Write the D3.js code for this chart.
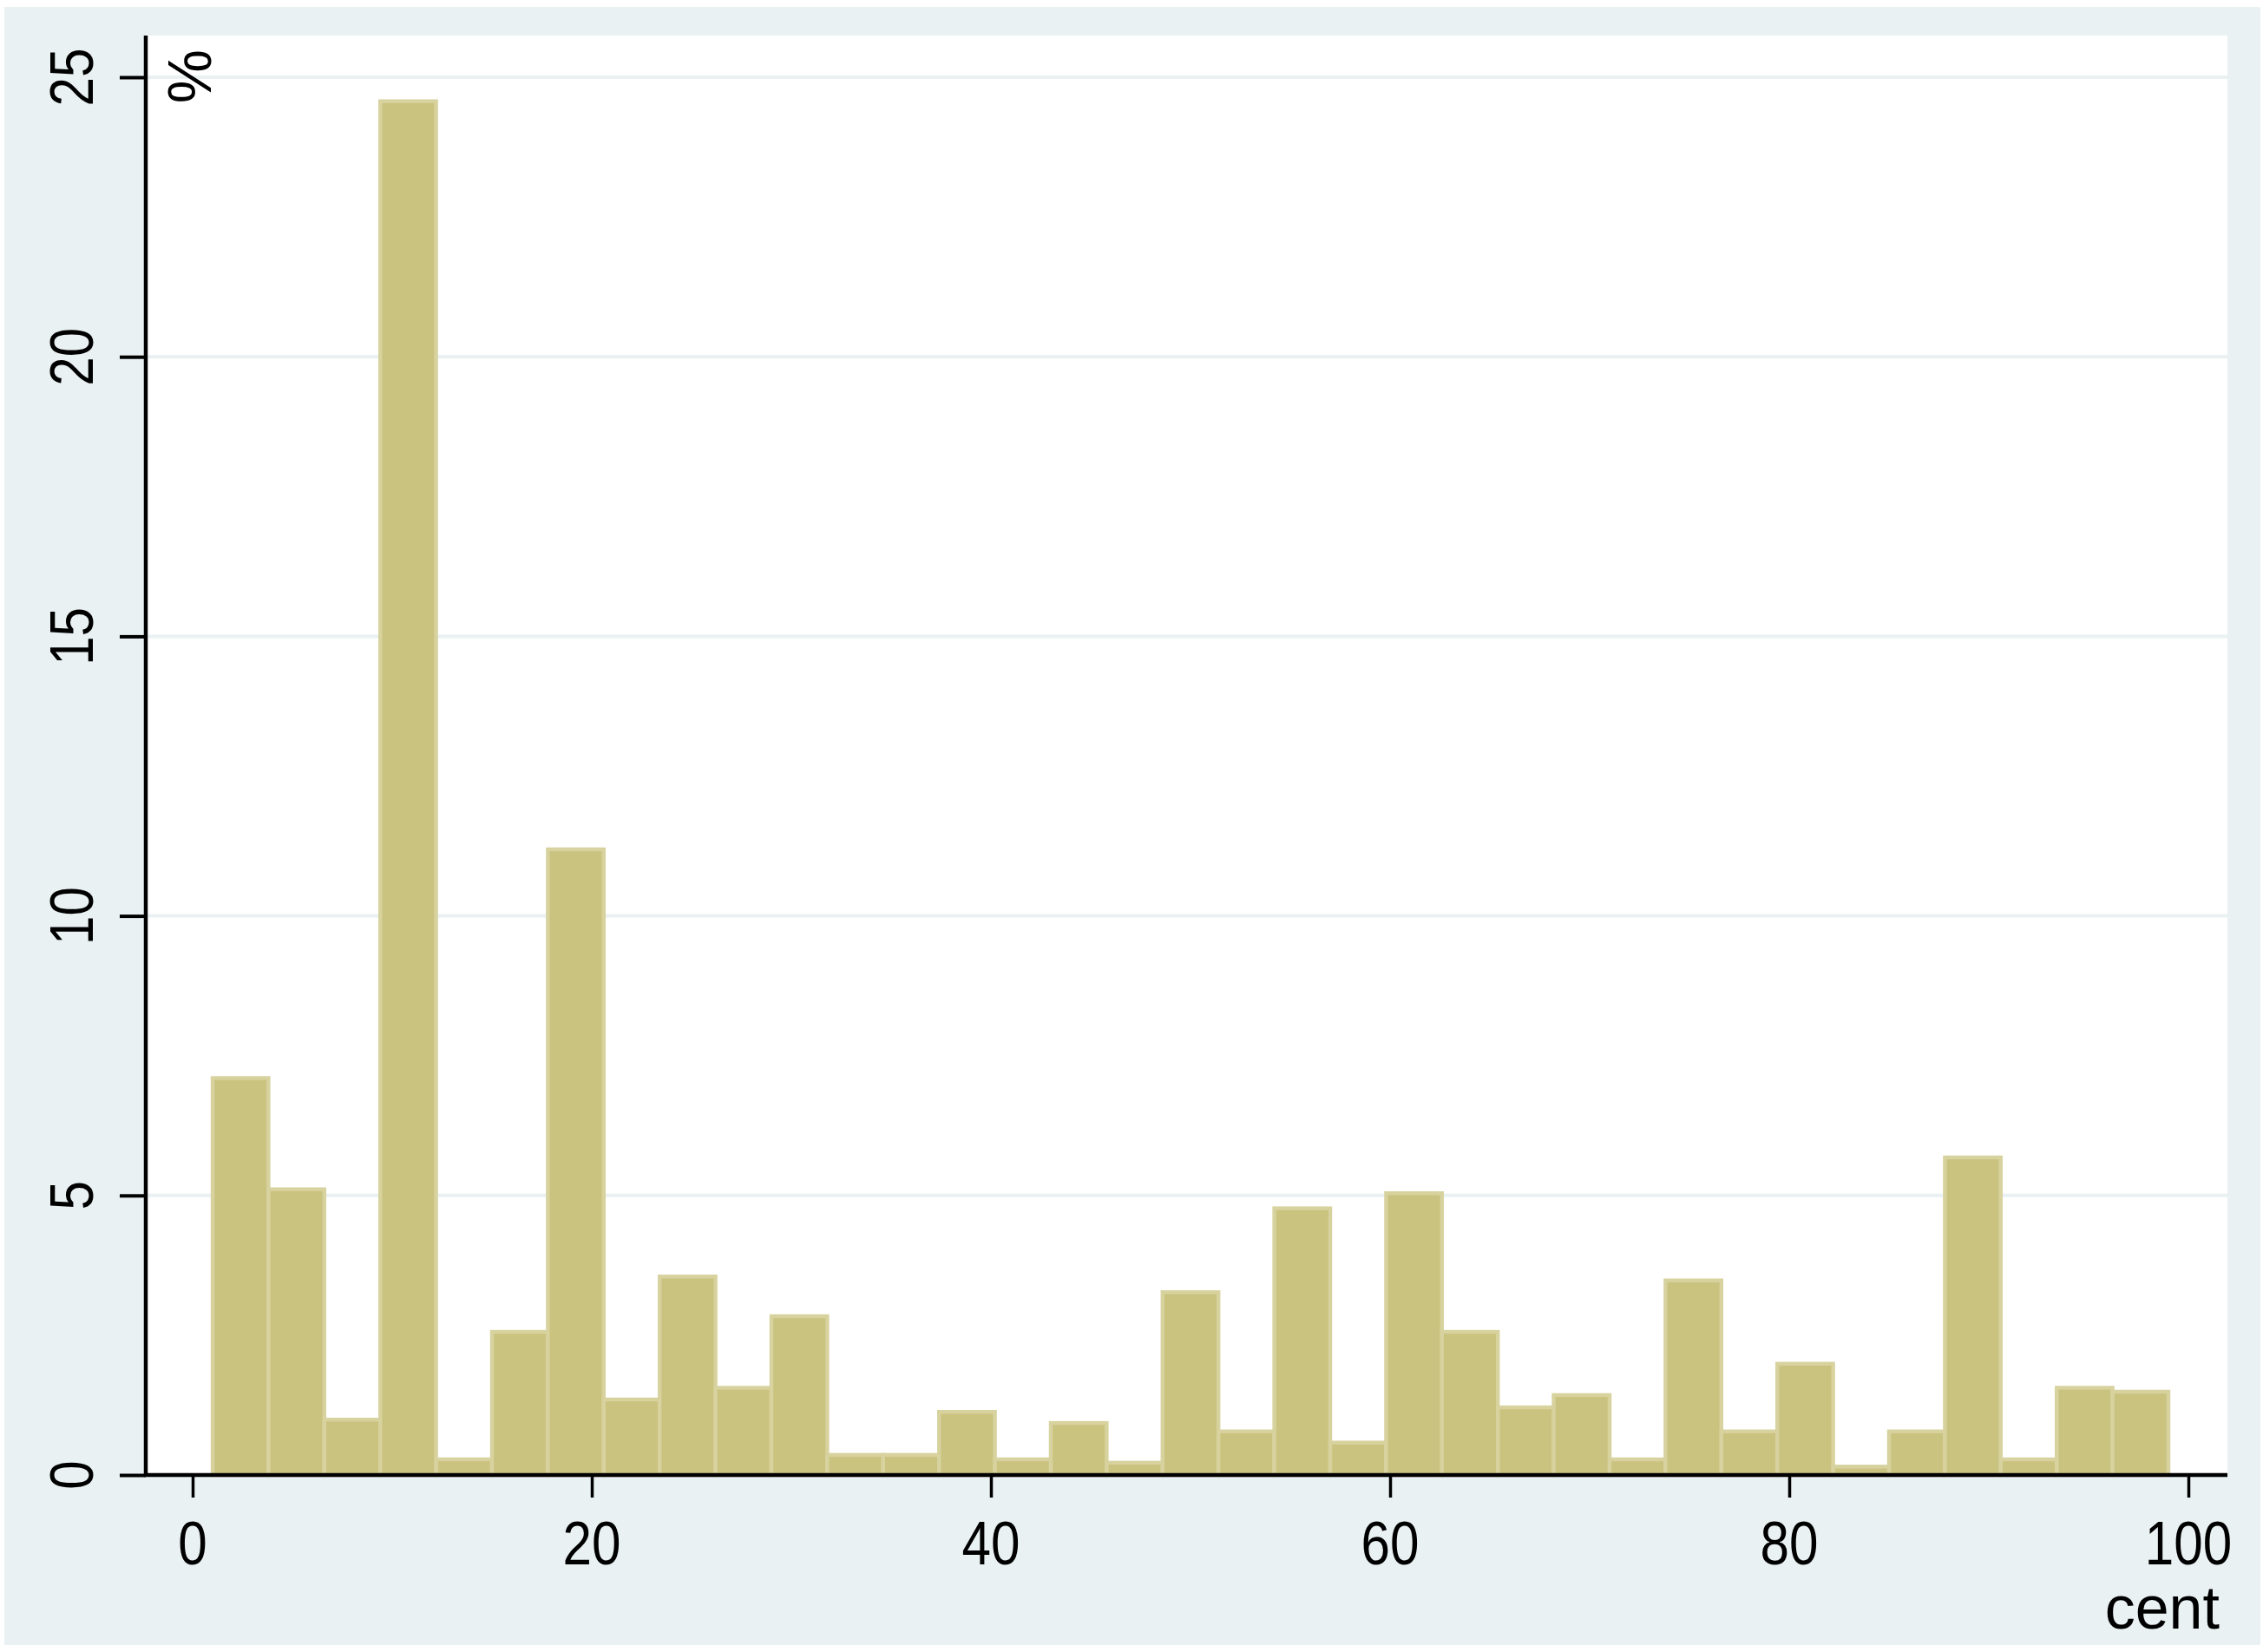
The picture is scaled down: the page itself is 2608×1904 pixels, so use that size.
<!DOCTYPE html>
<html>
<head>
<meta charset="utf-8">
<script src="https://cdn.jsdelivr.net/npm/d3@7"></script>
<style>
  html, body { margin: 0; padding: 0; background: #ffffff; }
  svg { display: block; }
</style>
</head>
<body>
<script>
// ---- data ----
const binStarts = [1, 3.8, 6.6, 9.4, 12.2, 15, 17.8, 20.6, 23.4, 26.2, 29, 31.8, 34.6, 37.4, 40.2, 43, 45.8, 48.6, 51.4, 54.2, 57, 59.8, 62.6, 65.4, 68.2, 71, 73.8, 76.6, 79.4, 82.2, 85, 87.8, 90.6, 93.4, 96.2];
const binWidth = 2.8;
const percents = [7.10, 5.11, 0.99, 24.57, 0.28, 2.56, 11.19, 1.35, 3.55, 1.56, 2.84, 0.36, 0.36, 1.13, 0.28, 0.93, 0.22, 3.27, 0.78, 4.77, 0.58, 5.04, 2.56, 1.21, 1.43, 0.28, 3.48, 0.78, 1.99, 0.15, 0.78, 5.68, 0.28, 1.56, 1.49];
const xTicks = [0, 20, 40, 60, 80, 100];
const yTicks = [0, 5, 10, 15, 20, 25];
const xTitle = "cent";
const yTitle = "%";

// ---- layout ----
const W = 2608, H = 1904;
const plot = { left: 168, right: 2567, top: 41, bottom: 1700 };
const FONT = "'Liberation Sans', Arial, sans-serif";
const FS = 70;
const SX = 0.86;

const x = d3.scaleLinear().domain([0, 100]).range([222, 2522]);
const y = d3.scaleLinear().domain([0, 25]).range([plot.bottom, 89]);

const svg = d3.select("body").append("svg").attr("width", W).attr("height", H);

svg.append("rect").attr("x", 0).attr("y", 0).attr("width", W).attr("height", H).attr("fill", "#ffffff");
svg.append("rect").attr("x", 5).attr("y", 8).attr("width", 2600).attr("height", 1888).attr("fill", "#e9f1f3");
svg.append("rect").attr("x", plot.left).attr("y", plot.top)
  .attr("width", plot.right - plot.left).attr("height", plot.bottom - plot.top).attr("fill", "#ffffff");

// gridlines
svg.append("g").selectAll("line").data(yTicks.filter(d => d > 0)).join("line")
  .attr("x1", plot.left).attr("x2", plot.right)
  .attr("y1", d => y(d)).attr("y2", d => y(d))
  .attr("stroke", "#e9f1f3").attr("stroke-width", 4);

// bars
const data = binStarts.map((s, i) => ({ s, v: percents[i] }));
svg.append("g").selectAll("rect").data(data).join("rect")
  .attr("x", d => x(d.s))
  .attr("width", d => x(d.s + binWidth) - x(d.s))
  .attr("y", d => y(d.v))
  .attr("height", d => y(0) - y(d.v))
  .attr("fill", "#cac380")
  .attr("stroke", "#d7d29e")
  .attr("stroke-width", 4.4);

// y axis ticks via d3 axis
const yAxis = d3.axisLeft(y).tickValues(yTicks).tickSize(30).tickSizeOuter(0).tickFormat("");
const gy = svg.append("g").attr("transform", `translate(${plot.left},0)`).call(yAxis);
gy.select(".domain").remove();
gy.selectAll(".tick line").attr("stroke", "#000").attr("stroke-width", 4);

// x axis ticks via d3 axis
const xAxis = d3.axisBottom(x).tickValues(xTicks).tickSize(26).tickSizeOuter(0).tickFormat("");
const gx = svg.append("g").attr("transform", `translate(0,${plot.bottom})`).call(xAxis);
gx.select(".domain").remove();
gx.selectAll(".tick line").attr("stroke", "#000").attr("stroke-width", 3.5);

// axis lines
svg.append("line").attr("x1", plot.left).attr("x2", plot.left).attr("y1", plot.top).attr("y2", plot.bottom + 2)
  .attr("stroke", "#000").attr("stroke-width", 4.5);
svg.append("line").attr("x1", plot.left - 2).attr("x2", plot.right).attr("y1", plot.bottom).attr("y2", plot.bottom)
  .attr("stroke", "#000").attr("stroke-width", 4.5);

// y tick labels (rotated)
svg.append("g").selectAll("text").data(yTicks).join("text")
  .attr("transform", d => `translate(107,${y(d)}) rotate(-90) scale(${SX},1)`)
  .attr("text-anchor", "middle")
  .attr("font-family", FONT).attr("font-size", FS).attr("fill", "#000")
  .text(d => d);

// x tick labels
svg.append("g").selectAll("text").data(xTicks).join("text")
  .attr("transform", d => `translate(${x(d)},1803) scale(${SX},1)`)
  .attr("text-anchor", "middle")
  .attr("font-family", FONT).attr("font-size", FS).attr("fill", "#000")
  .text(d => d);

// titles
svg.append("text").attr("x", 2558).attr("y", 1877).attr("text-anchor", "end")
  .attr("font-family", FONT).attr("font-size", FS).attr("fill", "#000").text(xTitle);
svg.append("text").attr("transform", `translate(243,88) rotate(-90)`).attr("text-anchor", "middle")
  .attr("font-family", FONT).attr("font-size", FS).attr("fill", "#000").text(yTitle);
</script>
</body>
</html>
